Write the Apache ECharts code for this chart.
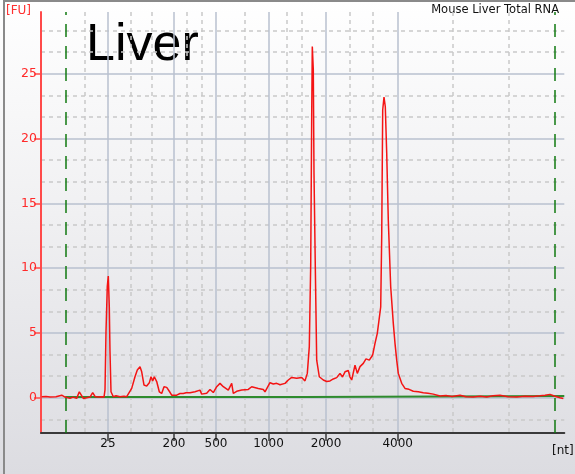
<!DOCTYPE html>
<html>
<head>
<meta charset="utf-8">
<script src="https://cdn.jsdelivr.net/npm/echarts@6/dist/echarts.min.js"></script>
<style>
  html, body { margin: 0; padding: 0; }
  body { width: 575px; height: 474px; overflow: hidden;
         background: linear-gradient(#ffffff 0%, #f0f0f2 45%, #dcdce1 100%); }
  #frame { position: absolute; left: 3px; top: 0; width: 572px; height: 474px;
           border-left: 2px solid #8a8a8a; border-top: 2px solid #8a8a8a; box-sizing: border-box; }
  #chart { position: absolute; left: 0; top: 0; width: 575px; height: 474px; }
</style>
</head>
<body>
<div id="frame"></div>
<div id="chart"></div>
<script>
// Migration time (s) and fluorescence (FU)
const timeSec = [18.07,18.5,18.9,19.5,20.07,20.2,20.4,20.57,20.9,21.2,21.57,21.83,21.9,22.23,22.57,22.9,23.17,23.4,23.7,24.07,24.3,
  24.4,24.5,24.63,24.73,24.83,24.9,25.0,25.23,25.5,25.9,26.3,26.57,26.73,27.07,27.4,27.63,27.9,28.07,28.3,28.57,28.83,29.0,29.17,29.33,
  29.57,29.83,30.07,30.3,30.57,30.83,31.07,31.23,31.57,31.9,32.23,32.5,32.9,33.4,33.57,33.9,34.07,34.57,34.9,35.23,35.57,35.9,36.23,
  36.73,37.07,37.23,37.57,38.07,38.73,39.07,39.73,40.23,40.4,40.9,41.23,41.57,41.9,42.4,42.73,43.07,43.57,44.07,44.4,44.57,44.63,44.73,
  44.83,44.97,45.07,45.13,45.23,45.3,45.43,45.57,45.83,46.23,46.57,46.9,47.23,47.57,47.9,48.15,48.4,48.73,48.9,49.07,49.4,49.63,49.9,
  50.23,50.5,50.83,51.17,51.4,51.63,51.83,51.97,52.07,52.17,52.3,52.43,52.57,52.73,52.97,53.23,53.4,53.57,53.73,54.07,54.4,54.8,55.23,
  55.73,56.23,56.7,57.23,57.9,58.5,59.1,59.9,60.5,61.23,61.9,62.57,63.2,63.9,64.7,65.57,66.4,67.23,67.9,68.4,68.9,69.4,69.9,70.23];
const fluorescence = [0.08,0.1,0.05,0.08,0.2,0.26,0.05,0.0,-0.05,0.05,-0.05,0.46,0.33,-0.05,0.0,0.05,0.4,0.1,0.05,0.08,0.05,
  0.6,5.1,8.6,9.39,7.0,3.55,0.46,0.08,0.15,0.08,0.12,0.08,0.2,0.72,1.62,2.14,2.39,2.0,0.98,0.9,1.15,1.62,1.3,1.62,
  1.25,0.46,0.33,0.85,0.8,0.5,0.2,0.08,0.2,0.33,0.33,0.38,0.38,0.46,0.59,0.59,0.28,0.35,0.64,0.4,0.85,1.11,0.85,
  0.59,1.11,0.33,0.5,0.59,0.64,0.85,0.72,0.64,0.46,1.16,1.06,1.11,1.0,1.11,1.37,1.57,1.5,1.57,1.3,1.45,1.88,2.9,
  3.94,10.24,21.7,27.1,25.3,17.3,10.1,2.9,1.62,1.37,1.25,1.3,1.45,1.55,1.88,1.6,2.0,2.1,1.6,1.37,2.52,1.88,2.4,
  2.65,3.0,2.9,3.3,4.2,4.97,5.1,7.0,12.4,22.2,23.2,22.45,18.9,13.7,8.56,5.74,4.2,2.9,1.88,1.11,0.72,0.65,0.5,
  0.46,0.39,0.35,0.28,0.13,0.18,0.1,0.2,0.08,0.05,0.12,0.05,0.15,0.2,0.08,0.05,0.12,0.1,0.15,0.2,0.26,0.12,0.0,-0.05];

// Baseline (green)
const baselineTime = [20.43, 44.62, 44.72, 70.33];
const baselineFu = [0.05, 0.05, 0.13, 0.13];

// Lower / upper marker positions
const markerTime = [20.43, 69.33];

// Ladder labels on x axis
const ladderNt = ['25', '200', '500', '1000', '2000', '4000'];
const ladderTime = [24.7, 31.3, 35.5, 40.75, 46.5, 53.67];
const minorTime = [22.35, 26.93, 29.1, 32.6, 34.1, 38.4, 42.6, 44.1, 48.83, 51.13, 59.2, 64.8];

// Y ticks
const yTicks = [0, 5, 10, 15, 20, 25];
const yMinor = [-1.667, 1.667, 3.333, 6.667, 8.333, 11.667, 13.333, 16.667, 18.333, 21.667, 23.333, 26.667, 28.333];

const X_MIN = 18, X_MAX = 70.33, Y_MIN = -2.72, Y_MAX = 29.76;

const trace = timeSec.map((t, i) => [t, fluorescence[i]]);
const baseline = baselineTime.map((t, i) => [t, baselineFu[i]]);

const chart = echarts.init(document.getElementById('chart'), null, { renderer: 'canvas' });
const FONT = 'DejaVu Sans';
chart.setOption({
  animation: false,
  backgroundColor: 'transparent',
  grid: { left: 41, right: 10.7, top: 12, bottom: 41, containLabel: false },
  xAxis: [
    {
      type: 'value', min: X_MIN, max: X_MAX, position: 'bottom',
      axisLine: { show: true, onZero: false, lineStyle: { color: '#3a3a3a', width: 2 } },
      axisTick: { show: true, customValues: ladderTime, length: 8, lineStyle: { color: '#3a3a3a', width: 1.5 } },
      axisLabel: { show: true, customValues: ladderTime, margin: 5, color: '#111', fontFamily: FONT, fontSize: 12,
        formatter: v => { const i = ladderTime.findIndex(t => Math.abs(t - v) < 1e-6); return i >= 0 ? ladderNt[i] : ''; } },
      splitLine: { show: true, lineStyle: { color: '#b9c0cf', width: 1.5 } }
    },
    {
      type: 'value', min: X_MIN, max: X_MAX, position: 'bottom',
      axisLine: { show: false },
      axisTick: { show: false, customValues: minorTime },
      axisLabel: { show: false, customValues: minorTime },
      splitLine: { show: true, lineStyle: { color: '#c9c9c9', width: 1.5, type: [4, 4] } }
    }
  ],
  yAxis: [
    {
      type: 'value', min: Y_MIN, max: Y_MAX, position: 'left',
      axisLine: { show: true, onZero: false, lineStyle: { color: '#ff4a4a', width: 2 } },
      axisTick: { show: true, customValues: yTicks, length: 7, lineStyle: { color: '#ff4a4a', width: 1.5 } },
      axisLabel: { show: true, customValues: yTicks, margin: 4, color: '#ff2a2a', fontFamily: FONT, fontSize: 12.5 },
      splitLine: { show: true, lineStyle: { color: '#b9c0cf', width: 1.5 } }
    },
    {
      type: 'value', min: Y_MIN, max: Y_MAX, position: 'left',
      axisLine: { show: false },
      axisTick: { show: false, customValues: yMinor },
      axisLabel: { show: false, customValues: yMinor },
      splitLine: { show: true, lineStyle: { color: '#c9c9c9', width: 1.5, type: [4, 4] } }
    }
  ],
  series: [
    {
      type: 'line', xAxisIndex: 0, yAxisIndex: 0, data: baseline, showSymbol: false, silent: true,
      lineStyle: { color: '#2e8b2e', width: 2 }, z: 3,
      markLine: {
        silent: true, symbol: ['none', 'none'], label: { show: false },
        lineStyle: { color: '#117a11', width: 1.5, type: [13, 9] },
        data: markerTime.map(t => ({ xAxis: t }))
      }
    },
    {
      type: 'line', xAxisIndex: 0, yAxisIndex: 0, data: trace, showSymbol: false, silent: true,
      lineStyle: { color: '#f41414', width: 1.5 }, z: 4
    }
  ],
  graphic: [
    { type: 'text', left: 86, top: 20, style: { text: 'Liver', font: '52px "Liberation Sans", Arial, sans-serif', fill: '#000' } },
    { type: 'text', right: 16, top: 4, style: { text: 'Mouse Liver Total RNA', font: '11.5px "DejaVu Sans", sans-serif', fill: '#111' } },
    { type: 'text', left: 6, top: 5, style: { text: '[FU]', font: '12px "DejaVu Sans", sans-serif', fill: '#ff3030' } },
    { type: 'text', left: 552, top: 445, style: { text: '[nt]', font: '12px "DejaVu Sans", sans-serif', fill: '#111' } }
  ]
});
</script>
</body>
</html>
